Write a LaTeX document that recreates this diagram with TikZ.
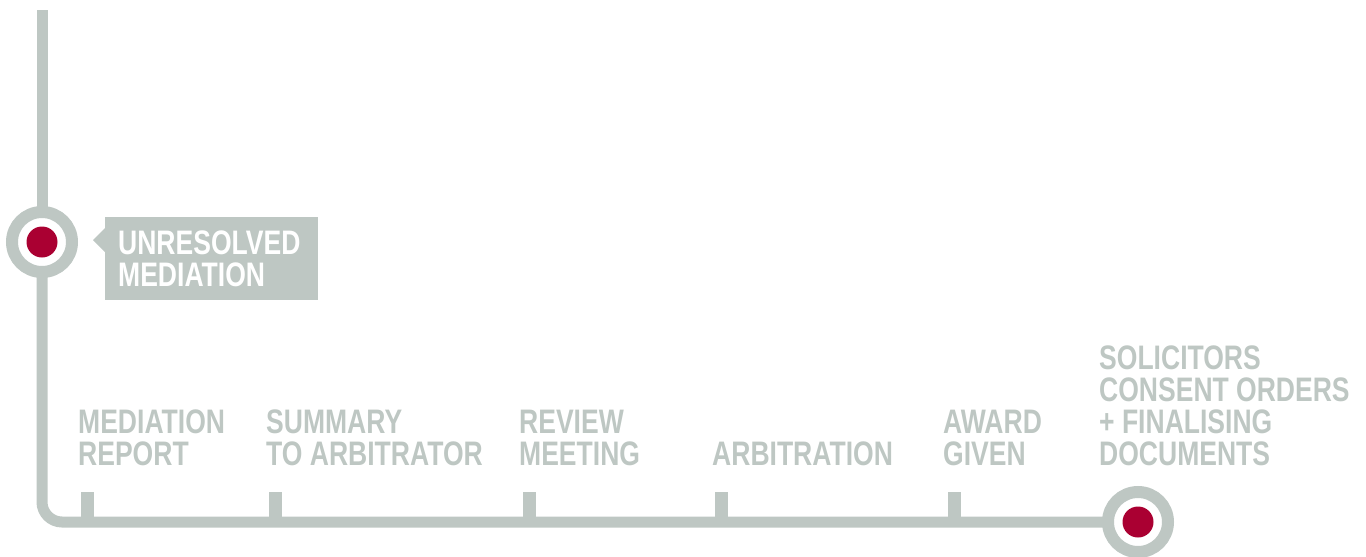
\documentclass[tikz,border=0pt]{standalone}
\usepackage{fontspec}
\newfontfamily\railfont[FakeStretch=0.78]{Liberation Sans}
\definecolor{railgray}{HTML}{BEC7C3}
\definecolor{railred}{HTML}{AA0032}
\begin{document}
\begin{tikzpicture}[x=1pt, y=1pt,
    rail/.style={draw=railgray, line width=11pt},
    stop/.style={circle, draw=railgray, line width=12pt, fill=white, minimum size=60pt},
    tick/.style={fill=railgray, minimum width=12.5pt, minimum height=30pt},
    steptext/.style={anchor=base west, align=left, text=railgray, font=\railfont\bfseries\fontsize{34}{32}\selectfont},
    boxtext/.style={anchor=north west, align=left, fill=railgray, text=white, inner xsep=13pt, text width=187pt, minimum height=83pt, font=\railfont\bfseries\fontsize{34}{32}\selectfont}]
                  \tikzstyle{every node}+=[inner sep=0pt]
                  \useasboundingbox (0,0) rectangle (1366,-557);
                  \coordinate (top) at (42,-10);
                  \draw[rail] (top) -- (42,-242);
                  \draw[rail, rounded corners=20pt] (42,-242) |- (1138,-522);
                  \node[stop] (unresolved) at (42,-242) {};
                  \node[stop] (finalised) at (1138,-522) {};
                  \fill[railred] (unresolved) circle (15.5);
                  \fill[railred] (finalised) circle (15.5);
                  \node[boxtext] (unresbox) at (105,-217) {UNRESOLVED\\MEDIATION};
                  \fill[railgray] (93,-240) -- (106,-227) -- (106,-253) -- cycle;
                  \node[tick] (report) at (87.5,-507) {};
                  \node[tick] (summary) at (275.5,-507) {};
                  \node[tick] (review) at (529.5,-507) {};
                  \node[tick] (arbitration) at (721.5,-507) {};
                  \node[tick] (award) at (954.5,-507) {};
                  \node[steptext] (reporttext) at (78,-465) {MEDIATION\\REPORT};
                  \node[steptext] (summarytext) at (266,-465) {SUMMARY\\TO ARBITRATOR};
                  \node[steptext] (reviewtext) at (519,-465) {REVIEW\\MEETING};
                  \node[steptext] (arbitrationtext) at (712,-465) {ARBITRATION};
                  \node[steptext] (awardtext) at (943,-465) {AWARD\\GIVEN};
                  \node[steptext] (finalisedtext) at (1099,-465) {SOLICITORS\\CONSENT ORDERS\\+ FINALISING\\DOCUMENTS};
              \end{tikzpicture}
\end{document}
